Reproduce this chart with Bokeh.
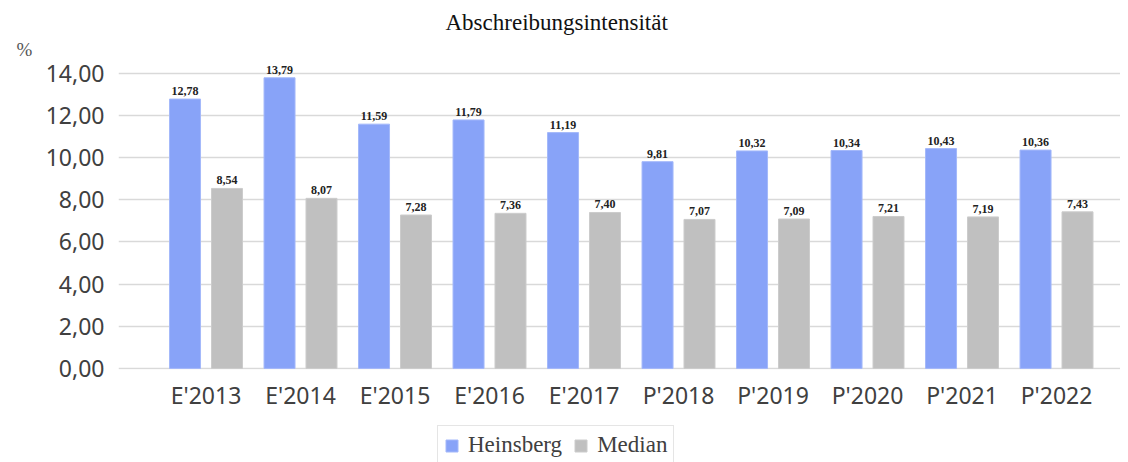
from bokeh.plotting import figure
from bokeh.models import (ColumnDataSource, Range1d, FixedTicker, Legend, LegendItem,
                          Title)
from bokeh.layouts import column
from bokeh.transform import dodge
from bokeh.embed import file_html
from bokeh.resources import INLINE
from bokeh.core.properties import value

categories = ["E'2013", "E'2014", "E'2015", "E'2016", "E'2017",
              "P'2018", "P'2019", "P'2020", "P'2021", "P'2022"]
heinsberg = [12.78, 13.79, 11.59, 11.79, 11.19, 9.81, 10.32, 10.34, 10.43, 10.36]
median = [8.54, 8.07, 7.28, 7.36, 7.40, 7.07, 7.09, 7.21, 7.19, 7.43]
series_names = ["Heinsberg", "Median"]
y_ticks = [0, 2, 4, 6, 8, 10, 12, 14]

def de(v):
    return f"{v:.2f}".replace(".", ",")

src = ColumnDataSource(dict(
    x=list(range(len(categories))),
    h=heinsberg, m=median,
    hl=[de(v) for v in heinsberg], ml=[de(v) for v in median],
))

BLUE = "#88a3f8"
GRAY = "#c0c0c0"
BLUE_EDGE = "#a4b8fa"
GRAY_EDGE = "#cccccc"

p = figure(frame_width=1002, frame_height=309, output_backend="svg",
           toolbar_location=None,
           x_range=Range1d(-0.926, 9.677), y_range=Range1d(-0.05, 14.61),
           min_border_left=118, min_border_right=0, min_border_top=60,
           min_border_bottom=50, background_fill_color="white",
           border_fill_color="white", outline_line_color=None)

off = 0.222
bw = 0.328

p.vbar(x=dodge("x", -off), top="h", width=bw, source=src,
       fill_color=BLUE, line_color=BLUE_EDGE, line_width=1)
p.vbar(x=dodge("x", off), top="m", width=bw, source=src,
       fill_color=GRAY, line_color=GRAY_EDGE, line_width=1)

p.text(x=dodge("x", -off), y="h", text="hl", source=src, text_align="center",
       text_baseline="bottom", y_offset=-4, text_font=value("Liberation Serif"),
       text_font_size="12px", text_font_style="bold", text_color="#222222")
p.text(x=dodge("x", off), y="m", text="ml", source=src, text_align="center",
       text_baseline="bottom", y_offset=-4, text_font=value("Liberation Serif"),
       text_font_size="12px", text_font_style="bold", text_color="#222222")

# axes
p.xaxis.ticker = FixedTicker(ticks=list(range(len(categories))))
p.xaxis.major_label_overrides = {i: c for i, c in enumerate(categories)}
p.yaxis.ticker = FixedTicker(ticks=y_ticks)
p.yaxis.major_label_overrides = {t: de(t) for t in y_ticks}
for ax in (p.xaxis, p.yaxis):
    ax.axis_line_color = None
    ax.major_tick_line_color = None
    ax.minor_tick_line_color = None
    ax.major_label_text_font = "Noto Sans"
    ax.major_label_text_font_size = "23px"
    ax.major_label_text_color = "#404040"
p.yaxis.major_label_standoff = 8
p.xaxis.major_label_standoff = 3

p.xgrid.grid_line_color = None
p.ygrid.ticker = FixedTicker(ticks=y_ticks)
p.ygrid.grid_line_color = "#d9d9d9"
p.ygrid.grid_line_width = 1.5

# titles: "%" first (closest to frame), then main title
p.title.text = ""
p.title.visible = False
p.add_layout(Title(text="%", align="left", offset=-102,
                   text_font="Liberation Serif", text_font_size="19px",
                   text_font_style="normal", text_color="#555555",
                   standoff=2), "above")
p.add_layout(Title(text="Abschreibungsintensität", align="left", offset=327,
                   text_font="Liberation Serif", text_font_size="23px",
                   text_font_style="normal", text_color="#111111",
                   standoff=2), "above")

# legend strip below the chart (its renderers are hidden; only the swatches show)
lg = figure(width=1120, height=43, output_backend="svg", toolbar_location=None,
            x_range=Range1d(0, 1120), y_range=Range1d(0, 43),
            x_axis_location=None, y_axis_location=None,
            min_border_left=0, min_border_right=0, min_border_top=0,
            min_border_bottom=0, outline_line_color=None,
            background_fill_color="white", border_fill_color="white")
lg.grid.visible = False
lb = lg.vbar(x="x", top="h", width=bw, source=src,
             fill_color=BLUE, line_color=BLUE_EDGE, visible=False)
lm = lg.vbar(x="x", top="m", width=bw, source=src,
             fill_color=GRAY, line_color=GRAY_EDGE, visible=False)
legend = Legend(items=[LegendItem(label=series_names[0], renderers=[lb]),
                       LegendItem(label=series_names[1], renderers=[lm])],
                orientation="horizontal", location=(319, -3),
                label_text_font="Liberation Serif", label_text_font_size="23px",
                label_text_color="#404040", glyph_width=15, glyph_height=15,
                border_line_color="#cccccc", padding=6, spacing=11,
                label_standoff=9, margin=0, background_fill_color="white",
                inactive_fill_alpha=0.0)
lg.add_layout(legend, "center")

layout = column(p, lg, spacing=0)
open("out.html", "w").write(file_html(layout, INLINE))
